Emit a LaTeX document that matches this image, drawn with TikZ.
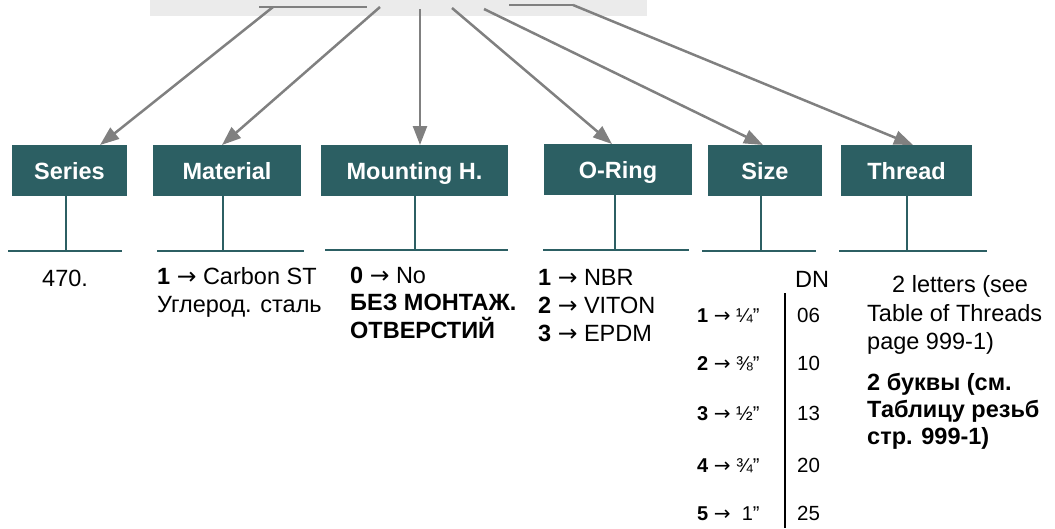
\documentclass[tikz,border=0pt]{standalone}
\usepackage{fontspec}
\setmainfont{Liberation Sans}
\newfontfamily\arrfont{DejaVu Sans}
\newcommand\rarrow{{\arrfont →}}
\usetikzlibrary{arrows.meta}
\definecolor{boxteal}{HTML}{2C5F63}
\definecolor{arrgrey}{HTML}{808080}
\definecolor{bandgrey}{HTML}{EBEBEB}
\begin{document}
\begin{tikzpicture}[x=1pt,y=-1pt,
  box/.style={fill=boxteal, text=white, font=\fontsize{23.5}{28}\selectfont\bfseries, minimum height=51pt, inner sep=0pt, text height=17pt, text depth=0pt},
  arr/.style={draw=arrgrey, line width=2.5pt, -{Triangle[length=19pt,width=14pt]}},
  bandline/.style={draw=arrgrey, line width=2.5pt},
  stem/.style={draw=boxteal, line width=2pt},
  baseline/.style={draw=boxteal, line width=2.5pt},
  txt/.style={anchor=base west, inner sep=0pt, font=\fontsize{23.5}{28}\selectfont},
  small/.style={anchor=base west, inner sep=0pt, font=\fontsize{20}{24}\selectfont},
  dn/.style={anchor=base west, inner sep=0pt, font=\fontsize{20.5}{24}\selectfont}]
\useasboundingbox (0,0) rectangle (1055,528);
\fill[bandgrey] (150,0) rectangle (647,15.5);

% boxes
\node[box, minimum width=115pt] (series) at (69.5,170.5) {Series};
\node[box, minimum width=148pt] (material) at (227,170.5) {Material};
\node[box, minimum width=187pt] (mounting) at (414.5,170.5) {Mounting H.};
\node[box, minimum width=148pt] (oring) at (618,169.5) {O-Ring};
\node[box, minimum width=114pt] (size) at (765,170.5) {Size};
\node[box, minimum width=131pt] (thread) at (906.5,170.5) {Thread};

% band lines and arrow origins
\coordinate (b1) at (259,7);
\coordinate (b2) at (367,7);
\coordinate (b3) at (509,5);
\coordinate (tA) at (573,5);
\coordinate (sA) at (273,7);
\coordinate (mA) at (380,7);
\coordinate (hA) at (420,9);
\coordinate (oA) at (452,8);
\coordinate (zA) at (484,9);
\draw[bandline] (b1) -- (b2);
\draw[bandline] (b3) -- (tA);

% arrow tips on box tops
\coordinate (sT) at (100,145);
\coordinate (mT) at (222,145);
\coordinate (hT) at (420,145);
\coordinate (oT) at (612,144);
\coordinate (zT) at (763,145);
\coordinate (tT) at (913,145);
\draw[arr] (sA) -- (sT);
\draw[arr] (mA) -- (mT);
\draw[arr] (hA) -- (hT);
\draw[arr] (oA) -- (oT);
\draw[arr] (zA) -- (zT);
\draw[arr] (tA) -- (tT);

% stems and base lines
\coordinate (sL) at (8,251);   \coordinate (sR) at (122,251);
\coordinate (mL) at (157,251); \coordinate (mR) at (304,251);
\coordinate (hL) at (325,250); \coordinate (hR) at (508,250);
\coordinate (oL) at (543,250); \coordinate (oR) at (689,250);
\coordinate (zL) at (702,251); \coordinate (zR) at (816,251);
\coordinate (tL) at (839,251); \coordinate (tR) at (987,251);
\draw[stem] (series.south -| 66,0) -- (sL -| 66,0);
\draw[stem] (material.south -| 223,0) -- (mL -| 223,0);
\draw[stem] (mounting.south -| 415,0) -- (hL -| 415,0);
\draw[stem] (oring.south -| 615,0) -- (oL -| 615,0);
\draw[stem] (size.south -| 761,0) -- (zL -| 761,0);
\draw[stem] (thread.south -| 907,0) -- (tL -| 907,0);
\draw[baseline] (sL) -- (sR);
\draw[baseline] (mL) -- (mR);
\draw[baseline] (hL) -- (hR);
\draw[baseline] (oL) -- (oR);
\draw[baseline] (zL) -- (zR);
\draw[baseline] (tL) -- (tR);

% Series text
\node[txt] (t470) at (42,286) {470.};
% Material text
\node[txt] (mat1) at (157,284) {\textbf{1} \rarrow{} Carbon ST};
\node[txt] (mat2) at (157,312) {Углерод. сталь};
% Mounting text
\node[txt] (mnt1) at (350,283) {\textbf{0} \rarrow{} No};
\node[txt] (mnt2) at (350,310) {\textbf{БЕЗ МОНТАЖ.}};
\node[txt] (mnt3) at (350,338) {\textbf{ОТВЕРСТИЙ}};
% O-Ring text
\node[txt] (or1) at (538,285) {\textbf{1} \rarrow{} NBR};
\node[txt] (or2) at (538,313) {\textbf{2} \rarrow{} VITON};
\node[txt] (or3) at (538,341) {\textbf{3} \rarrow{} EPDM};
% Size text
\node[txt] (dnh) at (795,287) {DN};
\coordinate (vTop) at (785,293);
\coordinate (vBot) at (785,528);
\draw[line width=2.5pt] (vTop) -- (vBot);
\node[small] (sz1) at (697,322) {\textbf{1} \rarrow{} ¼”};
\node[small] (sz2) at (697,370) {\textbf{2} \rarrow{} ⅜”};
\node[small] (sz3) at (697,420) {\textbf{3} \rarrow{} ½”};
\node[small] (sz4) at (697,472) {\textbf{4} \rarrow{} ¾”};
\node[small] (sz5) at (697,520) {\textbf{5} \rarrow\ \ 1”};
\node[dn] (dn1) at (797,322) {06};
\node[dn] (dn2) at (797,370) {10};
\node[dn] (dn3) at (797,420) {13};
\node[dn] (dn4) at (797,472) {20};
\node[dn] (dn5) at (797,520) {25};
% Thread text
\node[txt] (th1) at (892,292) {2 letters (see};
\node[txt] (th2) at (867,321) {Table of Threads};
\node[txt] (th3) at (867,349) {page 999-1)};
\node[txt] (th4) at (867,390) {\textbf{2 буквы (см.}};
\node[txt] (th5) at (867,417) {\textbf{Таблицу резьб}};
\node[txt] (th6) at (867,444) {\textbf{стр. 999-1)}};
\end{tikzpicture}
\end{document}
